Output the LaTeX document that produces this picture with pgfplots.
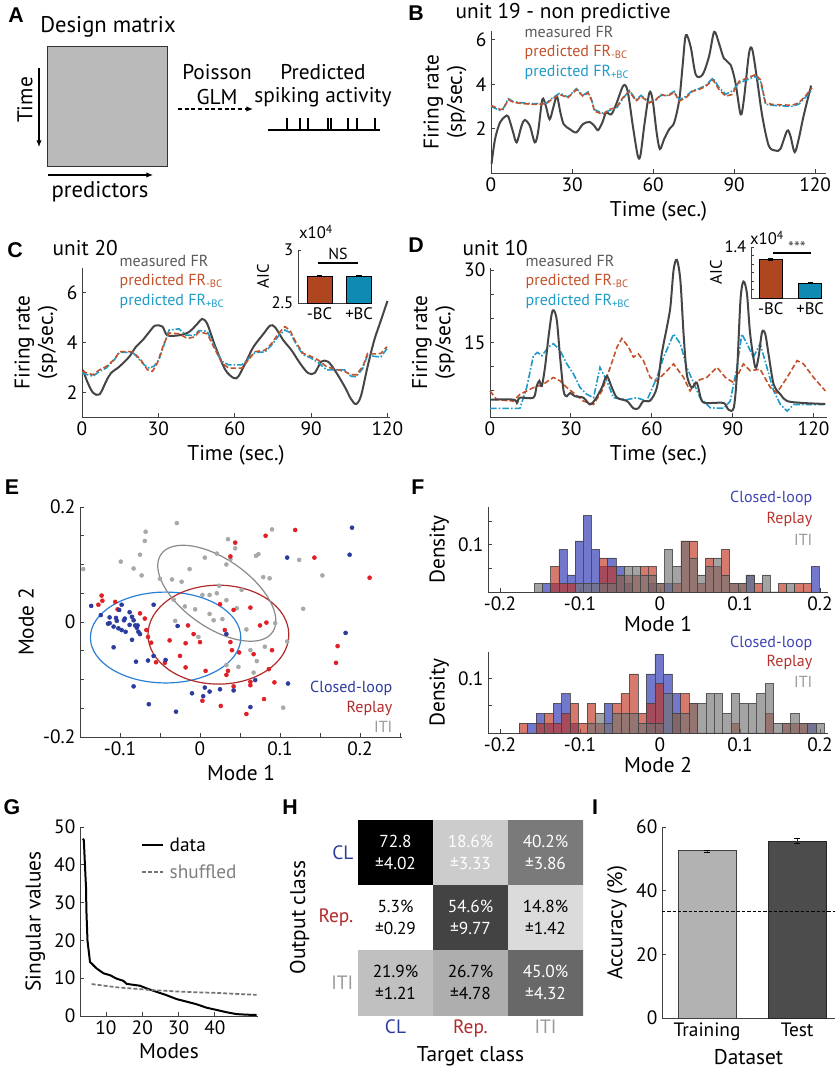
\documentclass[border=0pt]{standalone}
\usepackage{fontspec}
\setmainfont{PT Sans}
\newfontfamily\lettfont{Liberation Sans}
\usepackage{pgfplots}
\usepackage{pgfplotstable}
\pgfplotsset{compat=1.18}
\usetikzlibrary{arrows.meta}

\definecolor{axgray}{HTML}{404040}
\definecolor{mgray}{HTML}{454545}
\definecolor{mtext}{HTML}{5A5A5A}
\definecolor{bcred}{HTML}{C2522B}
\definecolor{bcblue}{HTML}{1E9BC8}
\definecolor{aicred}{HTML}{B0461F}
\definecolor{aicblue}{HTML}{0E8AB3}
\definecolor{dotblue}{HTML}{2C3C9E}
\definecolor{dotred}{HTML}{E11F26}
\definecolor{dotgray}{HTML}{A8A8A8}
\definecolor{elblue}{HTML}{2A80D4}
\definecolor{elred}{HTML}{B02A2A}
\definecolor{elgray}{HTML}{8A8A8A}
\definecolor{hblue}{HTML}{2630B0}
\definecolor{hred}{HTML}{C0331F}
\definecolor{hgray}{HTML}{737373}
\definecolor{tblue}{HTML}{3F44B5}
\definecolor{tred}{HTML}{B8322E}
\definecolor{tgray}{HTML}{9A9A9A}

\newcommand\letter{\lettfont\bfseries\fontsize{16}{16}\selectfont}
\newcommand\fsL{\fontsize{16}{17.5}\selectfont}
\newcommand\fsM{\fontsize{14.5}{16}\selectfont}
\newcommand\fsT{\fontsize{14.5}{16}\selectfont}
\newcommand\fsG{\fontsize{12}{13}\selectfont}
\newcommand\fsS{\fontsize{12.5}{13.5}\selectfont}

\tikzset{
 mline/.style={color=mgray, line width=1.5pt},
 bcl/.style={color=bcred, line width=1.2pt, dash pattern=on 4pt off 2pt},
 bcb/.style={color=bcblue, line width=1.2pt, dash pattern=on 5pt off 1.5pt on 1.2pt off 1.5pt},
}
\pgfplotsset{
 base/.style={scale only axis, anchor=south west, axis x line*=bottom, axis y line*=left,
   axis line style={color=axgray, line width=0.7pt}, every tick/.style={axgray, line width=0.6pt},
   tick align=inside, major tick length=3pt, /pgf/number format/assume math mode=true,
   tick label style={font=\fsT, text=black}, label style={font=\fsL}, clip=false},
 inset/.style={base, tick label style={font=\fsS}, label style={font=\fsS}, major tick length=2pt},
 hist/.style={ybar interval, fill opacity=0.65, draw=black!75, draw opacity=0.8, line width=0.4pt},
}

\pgfplotstableread{
x b r g
-0.1570 0 0 0.018
-0.1468 0.018 0 0
-0.1367 0.018 0.054 0
-0.1265 0.090 0.018 0
-0.1163 0.036 0.018 0
-0.1062 0.108 0 0.018
-0.0960 0.162 0 0.018
-0.0858 0.090 0 0.018
-0.0756 0.054 0.072 0.018
-0.0655 0.072 0.054 0.018
-0.0553 0.054 0.036 0.036
-0.0451 0.018 0.036 0.054
-0.0350 0 0.036 0.054
-0.0248 0 0.054 0.036
-0.0146 0.018 0.054 0.036
-0.0045 0 0.018 0.018
0.0057 0.018 0 0.090
0.0159 0 0.018 0.054
0.0261 0 0.108 0.108
0.0362 0 0.108 0.072
0.0464 0 0.018 0.036
0.0566 0 0.072 0.054
0.0667 0 0.054 0.072
0.0769 0 0.090 0.036
0.0871 0 0.018 0.018
0.0972 0 0.018 0.018
0.1074 0.036 0 0.036
0.1176 0 0.018 0
0.1278 0 0 0.036
0.1379 0 0 0
0.1481 0 0.018 0
0.1583 0 0 0.018
0.1684 0 0.018 0
0.1786 0 0.018 0
0.1888 0.054 0 0
0.1990 0 0 0
}\histone

\pgfplotstableread{
x b r g
-0.1760 0 0.018 0
-0.1654 0.018 0 0
-0.1548 0.036 0.018 0
-0.1442 0.018 0.036 0
-0.1336 0.054 0.018 0
-0.1230 0.072 0.036 0
-0.1124 0.018 0.054 0
-0.1018 0 0.018 0
-0.0912 0 0.054 0.018
-0.0806 0 0.018 0.036
-0.0700 0.054 0 0.018
-0.0594 0 0.054 0.036
-0.0488 0 0.072 0.036
-0.0382 0 0.108 0.036
-0.0276 0 0.036 0.018
-0.0170 0.108 0.054 0.018
-0.0064 0.144 0.090 0.018
0.0042 0.108 0 0.072
0.0148 0.072 0.036 0.036
0.0254 0 0.072 0.036
0.0360 0 0.054 0.054
0.0466 0 0 0.054
0.0572 0 0 0.072
0.0678 0 0 0.072
0.0784 0 0 0.036
0.0890 0 0.018 0.072
0.0996 0 0 0.054
0.1102 0 0 0.054
0.1208 0 0 0.072
0.1314 0 0.036 0.090
0.1420 0 0 0.018
0.1526 0 0.018 0.018
0.1632 0 0.018 0.036
0.1738 0 0.018 0.018
0.1844 0.018 0 0.018
0.1950 0 0 0.018
0.2056 0 0 0
}\histtwo

\pgfplotstableread{
x y c
0 0 72.8
1 0 18.6
2 0 40.2
0 1 5.3
1 1 54.6
2 1 14.8
0 2 21.9
1 2 26.7
2 2 45.0
}\confmat

\begin{document}
\begin{tikzpicture}[x=0.75pt,y=0.75pt]
\useasboundingbox (0,0) rectangle (837,1074);

% ---------------- Panel A ----------------
\node[font=\letter] at (16,1059) {A};
\node[font=\fontsize{17}{18}\selectfont] at (108,1047) {Design matrix};
\draw[black!80, line width=0.6pt, fill=black!27] (47,1028) rectangle (167,908);
\draw[-{Latex[length=5pt,width=4pt]}, line width=0.8pt] (39,1006) -- (39,927);
\node[rotate=90, font=\fsL] at (25,974) {Time};
\draw[-{Latex[length=5pt,width=4pt]}, line width=0.8pt] (48,899) -- (153,899);
\node[font=\fontsize{17}{18}\selectfont] at (100,882) {predictors};
\node[font=\fsL] at (217,1002) {Poisson};
\node[font=\fsL] at (217,977) {GLM};
\draw[-{Latex[length=5pt,width=4pt]}, line width=0.8pt, dash pattern=on 3pt off 2pt] (178,965) -- (253,965);
\node[font=\fsL] at (323,1002) {Predicted};
\node[font=\fsL] at (323,977) {spiking activity};
\draw[line width=0.8pt] (268,944) -- (380,944);
\foreach \s in {287,300,308,328,331,348,357,375} \draw[line width=0.8pt] (\s,944) -- (\s,956);

% ---------------- Panel B ----------------
\node[font=\letter] at (416,1061) {B};
\node[anchor=west, font=\fsL] at (451,1061) {unit 19 - non predictive};
\begin{axis}[base, at={(368.25pt,675.75pt)}, width=251.25pt, height=106.5pt,
  xmin=0, xmax=124, ymin=0, ymax=6.4, xtick={0,30,60,90,120}, ytick={2,4,6},
  xlabel={Time (sec.)}, ylabel={Firing rate\\(sp/sec.)}, ylabel style={align=center}]
\addplot[mline, smooth] coordinates {(0.2,0.42) (1.5,1.53) (3.3,2.27) (5.2,2.54) (6.4,2.54) (8.2,1.83) (9.5,1.38) (11.3,2.12) (12.5,2.39) (14.4,2.12) (16.2,1.38) (17.4,1.83) (19.0,3.31) (20.3,3.02) (21.7,2.42) (23.2,3.02) (24.4,3.46) (25.7,2.72) (26.9,2.2) (29.1,1.98) (31.6,1.83) (34.0,2.2) (36.5,2.3) (38.3,2.12) (39.6,1.93) (41.2,2.27) (42.6,2.72) (44.5,2.64) (46.3,3.09) (49.0,3.94) (50.6,3.68) (52.5,2.12) (54.3,0.79) (55.3,0.79) (56.8,2.2) (58.6,3.61) (59.8,3.31) (61.3,1.83) (62.5,1.08) (64.1,1.53) (66.0,1.98) (67.8,2.27) (69.7,3.31) (70.9,4.8) (72.1,6.21) (73.9,5.69) (75.8,4.43) (78.3,4.43) (80.7,5.25) (82.6,6.36) (84.4,5.84) (86.2,5.17) (88.7,4.87) (90.5,4.06) (92.4,2.64) (93.6,3.31) (95.5,5.39) (96.7,5.57) (98.5,4.2) (100.4,2.57) (102.8,1.23) (105.3,1.01) (107.1,1.08) (109.6,1.9) (110.8,1.68) (112.4,0.94) (113.9,1.53) (115.7,2.57) (118.5,3.94)};
\addplot[bcb] coordinates {(0,3.0) (3.3,2.82) (4.5,2.9) (6.4,3.35) (8.2,3.22) (10.7,3.17) (15.6,3.12) (20.5,3.15) (22.4,3.35) (25.4,3.6) (28.5,3.42) (31.6,3.8) (34.0,3.5) (35.9,3.65) (37.1,3.35) (38.3,2.85) (41.4,2.7) (43.9,2.82) (46.3,2.9) (48.8,3.35) (51.2,3.72) (53.7,3.3) (55.5,3.5) (58.6,3.2) (61.1,3.28) (62.9,3.5) (65.4,3.5) (67.8,3.68) (69.7,3.3) (72.1,3.45) (74.6,3.72) (77.0,3.8) (79.5,3.95) (82.2,4.28) (84.4,3.85) (86.9,3.55) (89.3,3.7) (91.8,4.05) (94.8,4.2) (97.9,4.35) (99.8,4.1) (101.6,3.1) (104.1,3.05) (111.4,3.0) (113.9,3.1) (116.3,3.4) (118.8,3.75)};
\addplot[bcl] coordinates {(0,3.05) (3.3,2.87) (4.5,2.87) (6.4,3.31) (8.2,3.19) (10.7,3.14) (15.6,3.09) (20.5,3.12) (22.4,3.31) (25.4,3.54) (28.5,3.39) (31.6,3.76) (34.0,3.46) (35.9,3.61) (37.1,3.31) (38.3,2.79) (41.4,2.64) (43.9,2.87) (46.3,2.94) (48.8,3.39) (51.2,3.68) (53.7,3.24) (55.5,3.46) (58.6,3.16) (61.1,3.31) (62.9,3.54) (65.4,3.46) (67.8,3.64) (69.7,3.24) (72.1,3.39) (74.6,3.68) (77.0,3.76) (79.5,3.91) (82.2,4.2) (84.4,3.76) (86.9,3.46) (89.3,3.54) (91.8,4.13) (94.8,4.28) (97.9,4.43) (99.8,4.2) (101.6,3.16) (104.1,3.09) (111.4,3.05) (113.9,3.16) (116.3,3.46) (118.8,3.83)};
\end{axis}
\node[anchor=west, font=\fsG, text=mtext] at (520,1042) {measured FR};
\node[anchor=west, font=\fsG, text=bcred] at (520,1022) {predicted FR\textsubscript{-BC}};
\node[anchor=west, font=\fsG, text=bcblue] at (520,1002) {predicted FR\textsubscript{+BC}};

% ---------------- Panel C ----------------
\node[font=\letter] at (15,824) {C};
\node[anchor=west, font=\fsL] at (48,826) {unit 20};
\begin{axis}[base, at={(61.5pt,492.75pt)}, width=231pt, height=111.75pt,
  xmin=0, xmax=121, ymin=1, ymax=7, xtick={0,30,60,90,120}, ytick={2,4,6},
  xlabel={Time (sec.)}, ylabel={Firing rate\\(sp/sec.)}, ylabel style={align=center}]
\addplot[mline, smooth] coordinates {(0.4,2.9) (2,2.44) (4.3,1.98) (6.9,1.91) (9.5,2.44) (11.4,2.77) (14.7,3.03) (18.6,3.43) (21.2,3.83) (23.8,4.09) (26.4,4.42) (28.7,4.68) (31.6,4.64) (33.5,4.29) (38.1,4.29) (42.0,4.42) (45.3,4.75) (47.2,4.95) (49.2,4.75) (52.4,3.83) (56.3,2.9) (59.6,2.57) (61.5,2.64) (64.8,3.30) (67.4,3.83) (71.3,4.35) (73.9,4.68) (75.8,4.62) (79.1,4.09) (82.3,3.69) (85.6,3.17) (88.8,2.77) (91.4,2.77) (94.0,3.23) (96.6,3.23) (99.2,2.90) (103.1,2.24) (105.7,1.72) (107.7,1.52) (109.6,1.85) (112.2,3.03) (114.8,4.09) (117.4,4.88) (120,5.67)};
\addplot[bcb] coordinates {(0,2.77) (2.3,2.70) (4.3,2.64) (6.9,2.84) (9.5,2.97) (12.7,3.30) (14.7,3.60) (19.9,3.60) (21.8,3.40) (24.4,3.10) (26.4,2.97) (28.3,3.05) (30.2,3.30) (32.2,3.90) (34.2,4.50) (38.1,4.55) (40.7,4.30) (44.0,4.28) (45.9,4.48) (49.2,4.45) (52.4,3.76) (55.0,3.24) (57.6,3.10) (62.8,3.10) (65.4,3.35) (68.0,3.60) (71.9,3.62) (74.5,3.90) (77.1,4.25) (79.7,4.50) (81.7,4.40) (84.3,3.90) (86.9,3.50) (89.5,3.40) (92.7,3.20) (96.0,2.90) (99.2,2.90) (103.1,2.90) (105.7,2.64) (107.7,2.62) (110.3,2.95) (112.2,3.50) (114.8,3.44) (117.4,3.42) (119.8,3.75)};
\addplot[bcl] coordinates {(0,2.84) (2.3,2.77) (4.3,2.70) (6.9,2.90) (9.5,3.03) (12.7,3.32) (14.7,3.63) (19.9,3.63) (23.1,3.30) (25.7,2.90) (27.7,2.84) (29.6,3.17) (32.2,3.96) (34.2,4.38) (38.1,4.35) (41.4,4.16) (44.0,4.22) (45.9,4.42) (49.2,4.35) (52.4,3.69) (55.0,3.17) (57.6,2.97) (62.8,2.97) (65.4,3.30) (68.0,3.63) (71.9,3.69) (74.5,3.96) (77.1,4.35) (79.7,4.64) (81.7,4.49) (84.3,3.96) (86.9,3.56) (89.5,3.46) (92.7,3.30) (96.0,3.03) (99.2,2.93) (103.1,2.84) (105.7,2.70) (107.7,2.70) (110.3,3.03) (112.2,3.56) (114.8,3.54) (117.4,3.56) (119.8,3.83)};
\end{axis}
\node[anchor=west, font=\fsG, text=mtext] at (115,813) {measured FR};
\node[anchor=west, font=\fsG, text=bcred] at (115,793) {predicted FR\textsubscript{-BC}};
\node[anchor=west, font=\fsG, text=bcblue] at (115,773) {predicted FR\textsubscript{+BC}};
% inset C
\begin{axis}[inset, at={(223.5pt,578.25pt)}, width=54.75pt, height=39.75pt,
  xmin=0.456, xmax=2.30, ymin=2.5, ymax=3, xtick={1,2}, xticklabels={-BC,+BC},
  ytick={2.5,3}, yticklabels={2.5,3}, ylabel={AIC}, ylabel style={yshift=-5pt}, major x tick style={draw=none}]
\addplot[ybar, bar width=0.63, fill=aicred, draw=black, line width=0.5pt,
  error bars/.cd, y dir=both, y explicit] coordinates {(1,2.755) +- (0,0.006)};
\addplot[ybar, bar width=0.63, fill=aicblue, draw=black, line width=0.5pt,
  error bars/.cd, y dir=both, y explicit] coordinates {(2,2.755) +- (0,0.006)};
\end{axis}
\node[font=\fsS] at (316,842) {x10\textsuperscript{4}};
\node[font=\fsG] at (338,820) {NS};
\draw[line width=0.8pt] (318,811) -- (358,811);

% ---------------- Panel D ----------------
\node[font=\letter] at (416,829) {D};
\node[anchor=west, font=\fsL] at (458,826) {unit 10};
\begin{axis}[base, at={(367.5pt,492.75pt)}, width=252.75pt, height=111.75pt,
  xmin=0, xmax=125, ymin=-0.5, ymax=30.4, xtick={0,30,60,90,120},
  ytick={5,10,15,20,25,30}, yticklabels={,,15,,,30},
  xlabel={Time (sec.)}, ylabel={Firing rate\\(sp/sec.)}, ylabel style={align=center}]
\addplot[bcb] coordinates {(0,1.3) (11.1,1.3) (13.6,5.6) (16.1,12.2) (17.6,12.9) (19.2,12.2) (21.7,14.0) (23.5,14.7) (26.0,13.3) (28.5,10.5) (31.0,8.4) (33.4,5.6) (35.9,4.2) (38.4,3.5) (40.8,9.8) (43.3,7.0) (45.8,3.5) (50.8,3.1) (54.4,3.5) (58.1,2.8) (61.9,7.7) (64.4,11.9) (68.1,16.7) (70.6,14.7) (73.0,9.8) (75.5,6.6) (77.9,3.5) (81.7,1.4) (86.7,1.3) (89.1,2.8) (91.6,9.8) (93.4,16.7) (95.3,14.7) (97.7,11.9) (100.2,14.7) (102.7,9.8) (105.2,4.9) (107.7,2.1) (110.2,0.7) (112.7,2.1) (124.4,2.1)};
\addplot[bcl] coordinates {(0,4.9) (2.5,3.1) (8.7,2.8) (11.1,4.2) (16.1,5.6) (19.8,6.3) (23.5,7.7) (26.0,7.0) (28.5,5.6) (31.0,4.5) (34.6,2.8) (38.4,2.1) (41.5,4.9) (44.6,9.8) (47.1,14.0) (48.9,15.8) (51.4,14.0) (53.2,11.9) (55.0,12.6) (56.9,11.2) (59.4,7.7) (61.9,7.0) (64.4,8.4) (68.1,10.5) (71.8,7.7) (74.2,4.9) (76.7,7.0) (80.4,7.7) (84.2,9.8) (87.3,7.7) (90.4,6.6) (94.0,10.5) (96.5,9.1) (100.2,9.4) (104.0,5.6) (106.4,4.5) (110.2,7.7) (113.9,11.2) (116.3,10.5) (120.0,7.7) (124.4,4.9)};
\addplot[mline, smooth] coordinates {(0,3.1) (8.7,3.1) (10.0,2.4) (11.1,3.5) (16.1,3.5) (17.3,5.9) (18.3,7.0) (19.2,5.9) (20.4,9.8) (21.7,16.1) (22.9,20.9) (23.7,21.6) (24.8,19.5) (26.0,11.9) (27.3,4.9) (28.5,3.8) (29.7,4.5) (31.5,3.8) (34.6,3.5) (37.1,2.1) (39.0,3.1) (41.5,5.6) (43.3,8.0) (45.2,5.6) (47.1,3.5) (50.8,2.8) (53.2,1.3) (55.0,1.3) (56.9,2.8) (59.4,2.9) (61.9,5.6) (63.7,12.6) (65.6,18.1) (66.9,22.3) (68.1,30.0) (69.3,32.1) (70.6,27.9) (71.8,16.7) (73.0,8.4) (74.8,5.6) (76.7,6.6) (78.6,2.8) (81.7,2.4) (86.7,2.4) (88.5,1.0) (90.4,1.4) (91.6,8.4) (92.9,23.7) (94.0,27.6) (95.3,25.1) (96.5,16.7) (98.4,9.8) (99.6,11.9) (100.9,17.1) (102.1,16.7) (103.3,12.6) (105.2,6.3) (107.7,4.2) (110.2,2.8) (116.3,2.4) (124.4,2.2)};
\end{axis}
\node[anchor=west, font=\fsG, text=mtext] at (521,813) {measured FR};
\node[anchor=west, font=\fsG, text=bcred] at (521,793) {predicted FR\textsubscript{-BC}};
\node[anchor=west, font=\fsG, text=bcblue] at (521,773) {predicted FR\textsubscript{+BC}};
% inset D
\begin{axis}[inset, at={(563.25pt,582pt)}, width=53.25pt, height=38.25pt,
  xmin=0.5, xmax=2.3, ymin=1.1, ymax=1.4, xtick={1,2}, xticklabels={-BC,+BC},
  ytick={1.15,1.2,1.25,1.3,1.35,1.4}, yticklabels={,,,,,1.4}, ylabel={AIC}, ylabel style={yshift=-5pt}, major x tick style={draw=none}]
\addplot[ybar, bar width=0.59, fill=aicred, draw=black, line width=0.5pt,
  error bars/.cd, y dir=both, y explicit] coordinates {(1,1.327) +- (0,0.004)};
\addplot[ybar, bar width=0.59, fill=aicblue, draw=black, line width=0.5pt,
  error bars/.cd, y dir=both, y explicit] coordinates {(2,1.188) +- (0,0.004)};
\end{axis}
\node[font=\fsS] at (767,836) {x10\textsuperscript{4}};
\node[font=\fsS, text=black!70] at (797,826) {***};
\draw[line width=0.8pt] (773,821) -- (811,821);

% ---------------- Panel E ----------------
\node[font=\letter] at (12,587) {E};
\begin{axis}[base, at={(60pt,252.75pt)}, width=241.5pt, height=172.5pt,
  xmin=-0.15, xmax=0.2525, ymin=-0.2, ymax=0.2,
  xtick={-0.15,-0.1,-0.05,0,0.05,0.1,0.15,0.2,0.25}, xticklabels={,-0.1,,0,,0.1,,0.2,},
  ytick={-0.2,-0.15,-0.1,-0.05,0,0.05,0.1,0.15,0.2}, yticklabels={-0.2,,,,0,,,,0.2},
  xlabel={Mode 1}, ylabel={Mode 2}]
\addplot[only marks, mark=*, mark size=1.5pt, color=dotgray] coordinates {(-0.146,0.092) (-0.099,0.105) (-0.068,0.157) (-0.069,0.141) (-0.075,0.117) (-0.083,0.093) (-0.073,0.081) (-0.029,0.172) (0.035,0.144) (0.044,0.128) (0.006,0.112) (0.021,0.119) (0.038,0.109) (0.033,0.100) (-0.013,0.092) (-0.050,0.075) (-0.035,0.074) (-0.023,0.070) (0.070,0.115) (0.073,0.118) (0.090,0.161) (0.079,0.078) (0.087,0.076) (0.124,0.108) (0.153,0.081) (0.129,0.023) (0.024,0.063) (0.052,0.056) (0.003,0.047) (0.012,0.047) (0.021,0.050) (0.033,0.038) (-0.019,0.027) (-0.006,0.022) (0.012,0.014) (0.017,0.003) (0.028,0.005) (-0.031,0.002) (-0.033,0.039) (0.058,-0.013) (0.094,-0.002) (0.109,-0.034) (0.081,-0.043) (0.063,-0.049) (0.071,-0.068) (0.048,-0.078) (0.067,-0.088) (0.033,-0.075) (0.104,-0.149) (0.046,0.024) (-0.002,-0.026)};
\addplot[only marks, mark=*, mark size=1.5pt, color=dotred] coordinates {(-0.123,0.046) (-0.122,0.037) (-0.127,0.030) (-0.106,0.035) (-0.075,0.015) (-0.069,0.006) (-0.067,-0.014) (-0.065,-0.026) (-0.061,-0.036) (-0.038,-0.032) (-0.018,-0.037) (0.000,-0.035) (-0.015,-0.006) (-0.008,-0.021) (-0.025,-0.059) (-0.055,-0.070) (-0.044,-0.071) (-0.018,-0.079) (0.007,-0.085) (0.035,-0.085) (0.033,-0.092) (0.003,-0.137) (0.026,-0.146) (0.058,-0.160) (0.042,-0.112) (0.063,-0.104) (0.063,-0.110) (0.093,-0.105) (0.080,-0.134) (0.025,0.031) (0.042,0.021) (0.063,0.025) (0.075,-0.006) (0.083,-0.001) (0.038,-0.035) (0.040,-0.049) (0.049,-0.053) (0.067,-0.056) (0.090,-0.049) (0.086,-0.082) (0.044,0.138) (0.038,0.114) (0.082,0.150) (0.119,0.160) (0.143,0.112) (0.212,0.077) (0.172,-0.042) (0.170,-0.071) (-0.103,0.022) (0.031,-0.014)};
\addplot[only marks, mark=*, mark size=1.5pt, color=dotblue] coordinates {(-0.136,0.028) (-0.124,0.012) (-0.113,0.008) (-0.105,0.007) (-0.101,0.021) (-0.098,0.030) (-0.094,0.006) (-0.088,0.017) (-0.085,0.009) (-0.083,0.003) (-0.081,-0.006) (-0.079,-0.010) (-0.077,-0.017) (-0.075,-0.021) (-0.113,-0.002) (-0.115,-0.003) (-0.108,-0.008) (-0.102,-0.011) (-0.098,-0.014) (-0.093,-0.017) (-0.085,-0.031) (-0.080,-0.069) (-0.065,-0.067) (-0.058,-0.059) (-0.043,-0.066) (-0.108,-0.044) (-0.058,0.030) (-0.028,-0.007) (0.033,-0.021) (-0.083,-0.112) (-0.064,-0.143) (-0.030,-0.156) (-0.010,-0.124) (0.004,-0.129) (0.006,-0.114) (0.012,-0.121) (0.025,-0.117) (0.042,-0.119) (0.063,-0.148) (0.069,-0.101) (0.110,-0.107) (0.109,0.112) (0.187,0.117) (0.190,0.164) (0.182,-0.019) (-0.088,-0.005) (-0.078,-0.006) (-0.095,0.003) (-0.104,0.002)};
\draw[elblue, line width=0.9pt] (axis cs:-0.043,-0.027) ellipse [x radius=0.094, y radius=0.079];
\draw[elred, line width=0.9pt] (axis cs:0.023,-0.022) ellipse [x radius=0.088, y radius=0.086];
\draw[elgray, line width=0.9pt] (axis cs:0.021,0.050) ellipse [x radius=51pt, y radius=25.6pt, rotate=-35];
\end{axis}
\node[anchor=east, font=\fsG, text=dotblue] at (397,386) {Closed-loop};
\node[anchor=east, font=\fsG, text=elred] at (397,366) {Replay};
\node[anchor=east, font=\fsG, text=tgray] at (397,347) {ITI};

% ---------------- Panel F ----------------
\node[font=\letter] at (418,587) {F};
\begin{axis}[base, at={(366pt,361.5pt)}, width=255pt, height=63.75pt,
  xmin=-0.215, xmax=0.21, ymin=0, ymax=0.18,
  xtick={-0.2,-0.1,0,0.1,0.2}, xticklabels={-0.2,-0.1,0,0.1,0.2},
  ytick={0.05,0.1,0.15}, yticklabels={,0.1,}, xlabel={Mode 1}, ylabel={Density},
  xlabel style={yshift=3pt}]
\addplot[hist, fill=hblue] table[x=x, y=b] {\histone};
\addplot[hist, fill=hred] table[x=x, y=r] {\histone};
\addplot[hist, fill=hgray] table[x=x, y=g] {\histone};
\end{axis}
\node[anchor=east, font=\fsG, text=tblue] at (817,576) {Closed-loop};
\node[anchor=east, font=\fsG, text=tred] at (817,555) {Replay};
\node[anchor=east, font=\fsG, text=tgray] at (817,534) {ITI};
\begin{axis}[base, at={(366pt,255.75pt)}, width=255pt, height=60.75pt,
  xmin=-0.215, xmax=0.21, ymin=0, ymax=0.148,
  xtick={-0.2,-0.1,0,0.1,0.2}, xticklabels={-0.2,-0.1,0,0.1,0.2},
  ytick={0.05,0.1}, yticklabels={,0.1}, xlabel={Mode 2}, ylabel={Density},
  xlabel style={yshift=3pt}]
\addplot[hist, fill=hblue] table[x=x, y=b] {\histtwo};
\addplot[hist, fill=hred] table[x=x, y=r] {\histtwo};
\addplot[hist, fill=hgray] table[x=x, y=g] {\histtwo};
\end{axis}
\node[anchor=east, font=\fsG, text=tblue] at (817,431) {Closed-loop};
\node[anchor=east, font=\fsG, text=tred] at (817,412) {Replay};
\node[anchor=east, font=\fsG, text=tgray] at (817,392) {ITI};

% ---------------- Panel G ----------------
\node[font=\letter] at (12,267) {G};
\begin{axis}[base, at={(60pt,43.5pt)}, width=133.5pt, height=141.75pt,
  xmin=2.84, xmax=51.9, ymin=0, ymax=50, xtick={10,20,30,40}, ytick={0,10,20,30,40,50},
  xlabel={Modes}, ylabel={Singular values}]
\addplot[color=black, line width=1.5pt] coordinates {(3.6,46.9) (3.9,46.5) (4.2,40) (4.5,34) (4.6,28) (4.9,20) (5.6,14.3) (7.4,12.6) (9.3,11.3) (11.1,10.8) (12.9,9.9) (14.8,9.3) (15.7,8.5) (19.4,8.0) (21.2,7.3) (23.9,6.4) (26.7,5.5) (29.4,4.5) (32.2,3.8) (35.0,3.1) (37.7,2.2) (40.5,1.6) (43.2,1.0) (46.0,0.5) (48.7,0.35) (51.5,0.26)};
\addplot[color=black!55, line width=1.3pt, dash pattern=on 3pt off 1.5pt] coordinates {(6.05,8.45) (12.9,7.6) (22.1,6.9) (31.3,6.4) (40.5,6.1) (51.5,5.6)};
\end{axis}
\draw[black, line width=1.3pt] (142,229) -- (163,229);
\node[anchor=west, font=\fsM] at (165,229) {data};
\draw[black!55, line width=1.3pt, dash pattern=on 3pt off 1.5pt] (142,202) -- (163,202);
\node[anchor=west, font=\fsM, text=black!50] at (165,202) {shuffled};

% ---------------- Panel H ----------------
\node[font=\letter] at (290,267) {H};
\begin{axis}[scale only axis, anchor=south west, at={(268.5pt,44.25pt)}, width=168.75pt, height=146.25pt,
  xmin=-0.5, xmax=2.5, ymin=-0.5, ymax=2.5, y dir=reverse,
  axis line style={draw=none}, major tick length=0pt,
  xtick={0,1,2}, xticklabels={\textcolor{dotblue}{CL},\textcolor{elred}{Rep.},\textcolor{tgray}{ITI}},
  ytick={0,1,2}, yticklabels={\textcolor{dotblue}{CL},\textcolor{elred}{Rep.},\textcolor{tgray}{ITI}},
  xticklabel pos=bottom, yticklabel pos=left,
  tick label style={font=\fsM}, label style={font=\fsL},
  xlabel={Target class}, ylabel={Output class},
  colormap={bwmap}{rgb255=(255,255,255) rgb255=(0,0,0)},
  point meta min=5.3, point meta max=72.8]
\addplot[matrix plot*, mesh/cols=3, point meta=explicit] table[x=x, y=y, meta=c] {\confmat};
\node[align=center, font=\fontsize{13}{17}\selectfont, text=white] at (axis cs:0,0) {72.8\\±4.02};
\node[align=center, font=\fontsize{13}{17}\selectfont, text=white] at (axis cs:1,0) {18.6\%\\±3.33};
\node[align=center, font=\fontsize{13}{17}\selectfont, text=white] at (axis cs:2,0) {40.2\%\\±3.86};
\node[align=center, font=\fontsize{13}{17}\selectfont, text=black] at (axis cs:0,1) {5.3\%\\±0.29};
\node[align=center, font=\fontsize{13}{17}\selectfont, text=white] at (axis cs:1,1) {54.6\%\\±9.77};
\node[align=center, font=\fontsize{13}{17}\selectfont, text=black] at (axis cs:2,1) {14.8\%\\±1.42};
\node[align=center, font=\fontsize{13}{17}\selectfont, text=black] at (axis cs:0,2) {21.9\%\\±1.21};
\node[align=center, font=\fontsize{13}{17}\selectfont, text=black] at (axis cs:1,2) {26.7\%\\±4.78};
\node[align=center, font=\fontsize{13}{17}\selectfont, text=white] at (axis cs:2,2) {45.0\%\\±4.32};
\end{axis}

% ---------------- Panel I ----------------
\node[font=\letter] at (595,267) {I};
\begin{axis}[base, at={(496.5pt,42pt)}, width=129.75pt, height=143.25pt,
  xmin=0.5, xmax=2.42, ymin=0, ymax=60, xtick={1,2}, xticklabels={Training,Test},
  ytick={0,20,40,60}, xlabel={Dataset}, ylabel={Accuracy (\%)}, major x tick style={draw=none}]
\addplot[ybar, bar width=0.644, fill=black!30, draw=black!75, line width=0.6pt,
  error bars/.cd, y dir=both, y explicit] coordinates {(1,52.5) +- (0,0.3)};
\addplot[ybar, bar width=0.644, fill=black!70, draw=black!85, line width=0.6pt,
  error bars/.cd, y dir=both, y explicit] coordinates {(2,55.6) +- (0,0.8)};
\addplot[black, line width=0.6pt, dash pattern=on 2.5pt off 1.5pt] coordinates {(0.5,33.5) (2.42,33.5)};
\end{axis}
\end{tikzpicture}
\end{document}
